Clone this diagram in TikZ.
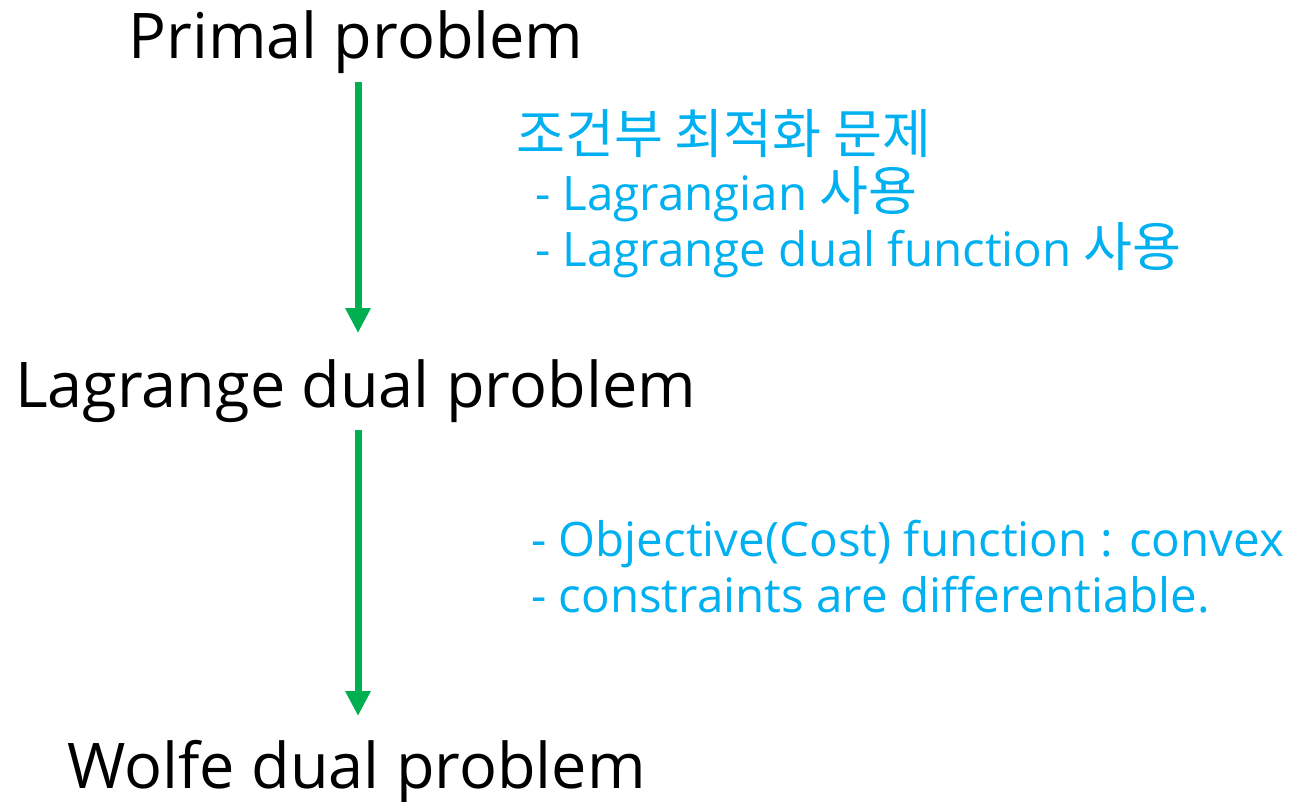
\documentclass[tikz,border=0pt]{standalone}
\usepackage{fontspec}
\setmainfont{Open Sans}
\newfontfamily\kr[Scale=1.12]{Noto Sans CJK KR}
\usetikzlibrary{arrows.meta}
\definecolor{arrgreen}{HTML}{00B050}
\definecolor{txtblue}{HTML}{00B0F0}
\tikzset{
  title/.style={anchor=base, inner sep=0pt, font=\fontsize{63}{66}\selectfont, text=black},
  note/.style={anchor=base west, inner sep=0pt, font=\fontsize{47.5}{50}\selectfont, text=txtblue},
  arr/.style={draw=arrgreen, line width=7pt, -{Triangle[width=24pt,length=25pt]}, fill=arrgreen}
}
\begin{document}
\begin{tikzpicture}[x=1pt,y=-1pt]
\useasboundingbox (0,0) rectangle (1299,801);
\node[title] (primal) at (356,58) {Primal problem};
\node[title] (lagr) at (355.5,407) {Lagrange dual problem};
\node[title] (wolfe) at (356.5,788) {Wolfe dual problem};
\draw[arr] ([shift={(2,24)}]primal.base) -- ([shift={(2.5,-74)}]lagr.base);
\draw[arr] ([shift={(2.5,23)}]lagr.base) -- ([shift={(1.5,-72)}]wolfe.base);
\node[note] (n1) at (516,153) {\kr 조건부 최적화 문제};
\node[note] (n2) at (535,210) {- Lagrangian {\kr 사용}};
\node[note] (n3) at (535,266) {- Lagrange dual function {\kr 사용}};
\node[note] (n4) at (531,556) {- Objective(Cost) function : convex};
\node[note] (n5) at (531,612) {- constraints are differentiable.};
\end{tikzpicture}
\end{document}
